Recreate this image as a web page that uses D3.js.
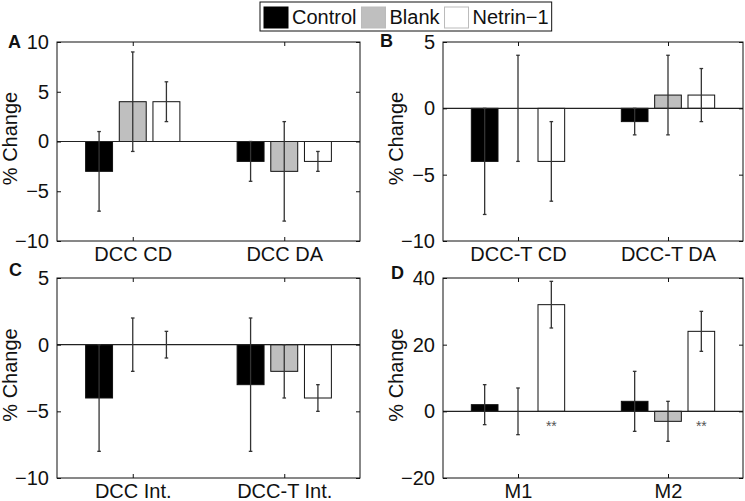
<!DOCTYPE html>
<html>
<head>
<meta charset="utf-8">
<script src="https://cdn.jsdelivr.net/npm/d3@7/dist/d3.min.js"></script>
<style>
  html, body { margin: 0; padding: 0; background: #fff; }
  svg text { font-family: "Liberation Sans", Arial, Helvetica, sans-serif; fill: #111; }
</style>
</head>
<body>
<svg id="chart" width="745" height="501"></svg>
<script>
// ---- data ----
const seriesNames = ["Control", "Blank", "Netrin\u22121"];
const seriesFill = ["#000000", "#bfbfbf", "#ffffff"];

const catsA = ["DCC CD", "DCC DA"];
const meanA = [[-3, 4, 4], [-2, -3, -2]];
const errA  = [[4, 5, 2], [2, 5, 1]];
const yDomA = [-10, 10];
const ticksA = [-10, -5, 0, 5, 10];

const catsB = ["DCC-T CD", "DCC-T DA"];
const meanB = [[-4, 0, -4], [-1, 1, 1]];
const errB  = [[4, 4, 3], [1, 3, 2]];
const yDomB = [-10, 5];
const ticksB = [-10, -5, 0, 5];

const catsC = ["DCC Int.", "DCC-T Int."];
const meanC = [[-4, 0, 0], [-3, -2, -4]];
const errC  = [[4, 2, 1], [5, 2, 1]];
const yDomC = [-10, 5];
const ticksC = [-10, -5, 0, 5];

const catsD = ["M1", "M2"];
const meanD = [[2, 0, 32], [3, -3, 24]];
const errD  = [[6, 7, 7], [9, 6, 6]];
const yDomD = [-20, 40];
const ticksD = [-20, 0, 20, 40];
const sigD  = [["", "", "**"], ["", "", "**"]];
const sigY  = -3.5;

const panels = [
  {letter: "A", cats: catsA, mean: meanA, err: errA, yDom: yDomA, ticks: ticksA, sig: null,
   box: {x0: 57, x1: 360, y0: 42, y1: 241}, lx: 8, ly: 48},
  {letter: "B", cats: catsB, mean: meanB, err: errB, yDom: yDomB, ticks: ticksB, sig: null,
   box: {x0: 443, x1: 743, y0: 42, y1: 241}, lx: 380, ly: 47},
  {letter: "C", cats: catsC, mean: meanC, err: errC, yDom: yDomC, ticks: ticksC, sig: null,
   box: {x0: 57, x1: 360, y0: 278, y1: 478}, lx: 9, ly: 276},
  {letter: "D", cats: catsD, mean: meanD, err: errD, yDom: yDomD, ticks: ticksD, sig: sigD,
   box: {x0: 443, x1: 743, y0: 278, y1: 478}, lx: 391, ly: 279}
];

const svg = d3.select("#chart");
const FS = 20;
const groupWidth = 2 / 3;           // MATLAB grouped bar layout
const barStep = groupWidth / 3;
const barW = barStep * 0.8;
const tickLen = 4;

panels.forEach(p => {
  const b = p.box;
  const x = d3.scaleLinear().domain([0.5, p.cats.length + 0.5]).range([b.x0, b.x1]);
  const y = d3.scaleLinear().domain(p.yDom).range([b.y1, b.y0]);
  const g = svg.append("g");

  // bars
  p.mean.forEach((vals, gi) => {
    vals.forEach((v, si) => {
      const cx = (gi + 1) + (si - 1) * barStep;
      g.append("rect")
        .attr("x", x(cx - barW / 2))
        .attr("width", x(cx + barW / 2) - x(cx - barW / 2))
        .attr("y", Math.min(y(v), y(0)))
        .attr("height", Math.abs(y(v) - y(0)))
        .attr("fill", seriesFill[si])
        .attr("stroke", "#111")
        .attr("stroke-width", 1);
    });
  });

  // baseline at zero
  g.append("line")
    .attr("x1", b.x0).attr("x2", b.x1)
    .attr("y1", y(0)).attr("y2", y(0))
    .attr("stroke", "#222").attr("stroke-width", 1.2);

  // error bars
  p.mean.forEach((vals, gi) => {
    vals.forEach((v, si) => {
      const cx = x((gi + 1) + (si - 1) * barStep);
      const e = p.err[gi][si];
      g.append("line")
        .attr("x1", cx).attr("x2", cx)
        .attr("y1", y(v + e)).attr("y2", y(v - e))
        .attr("stroke", "#333").attr("stroke-width", 1.3);
      [v + e, v - e].forEach(yy => {
        g.append("line")
          .attr("x1", cx - 1.8).attr("x2", cx + 1.8)
          .attr("y1", y(yy)).attr("y2", y(yy))
          .attr("stroke", "#333").attr("stroke-width", 1.3);
      });
    });
  });

  // significance marks
  if (p.sig) {
    p.sig.forEach((row, gi) => {
      row.forEach((s, si) => {
        if (!s) return;
        g.append("text")
          .attr("x", x((gi + 1) + (si - 1) * barStep))
          .attr("y", y(sigY) + 8)
          .attr("text-anchor", "middle")
          .style("font-size", "14px")
          .style("fill", "#555")
          .text(s);
      });
    });
  }

  // frame
  g.append("rect")
    .attr("x", b.x0).attr("y", b.y0)
    .attr("width", b.x1 - b.x0).attr("height", b.y1 - b.y0)
    .attr("fill", "none").attr("stroke", "#111").attr("stroke-width", 1);

  // y ticks (inside, both sides) and labels
  const yAxis = d3.axisLeft(y).tickValues(p.ticks).tickSize(-tickLen).tickPadding(tickLen + 4)
    .tickFormat(d => d < 0 ? "\u2212" + Math.abs(d) : String(d));
  const ya = g.append("g").attr("transform", `translate(${b.x0},0)`).call(yAxis);
  ya.select(".domain").remove();
  ya.selectAll("line").attr("stroke", "#111");
  ya.selectAll("text").style("font-size", FS + "px").attr("fill", "#111");
  const yAxisR = d3.axisRight(y).tickValues(p.ticks).tickSize(-tickLen).tickFormat("");
  const yr = g.append("g").attr("transform", `translate(${b.x1},0)`).call(yAxisR);
  yr.select(".domain").remove();
  yr.selectAll("line").attr("stroke", "#111");

  // x ticks (inside, top and bottom) and labels
  const xt = p.cats.map((c, i) => i + 1);
  const xAxis = d3.axisBottom(x).tickValues(xt).tickSize(-tickLen).tickPadding(6)
    .tickFormat((d, i) => p.cats[i]);
  const xa = g.append("g").attr("transform", `translate(0,${b.y1})`).call(xAxis);
  xa.select(".domain").remove();
  xa.selectAll("line").attr("stroke", "#111");
  xa.selectAll("text").style("font-size", FS + "px").attr("fill", "#111");
  const xAxisT = d3.axisTop(x).tickValues(xt).tickSize(-tickLen).tickFormat("");
  const xtp = g.append("g").attr("transform", `translate(0,${b.y0})`).call(xAxisT);
  xtp.select(".domain").remove();
  xtp.selectAll("line").attr("stroke", "#111");

  // y label
  const cy = (b.y0 + b.y1) / 2 - 3;
  g.append("text")
    .attr("transform", `translate(${b.x0 - 40},${cy}) rotate(-90)`)
    .attr("text-anchor", "middle")
    .style("font-size", FS + "px")
    .text("% Change");

  // panel letter
  g.append("text")
    .attr("x", p.lx).attr("y", p.ly)
    .style("font-size", "18px").style("font-weight", "bold")
    .text(p.letter);
});

// legend
const leg = svg.append("g");
const legX0 = 260, legY0 = 2, legH = 29;
let cx = legX0 + 4;
seriesNames.forEach((name, i) => {
  leg.append("rect")
    .attr("x", cx).attr("y", legY0 + 5)
    .attr("width", 24).attr("height", 21)
    .attr("fill", seriesFill[i])
    .attr("stroke", i === 0 ? "#000" : "#bbb").attr("stroke-width", 1);
  const t = leg.append("text")
    .attr("x", cx + 28).attr("y", legY0 + 22)
    .style("font-size", FS + "px")
    .text(name);
  cx += 28 + t.node().getComputedTextLength() + 5;
});
leg.insert("rect", ":first-child")
  .attr("x", legX0).attr("y", legY0)
  .attr("width", cx - legX0 - 2).attr("height", legH)
  .attr("fill", "#fff").attr("stroke", "#111").attr("stroke-width", 1);
</script>
</body>
</html>
